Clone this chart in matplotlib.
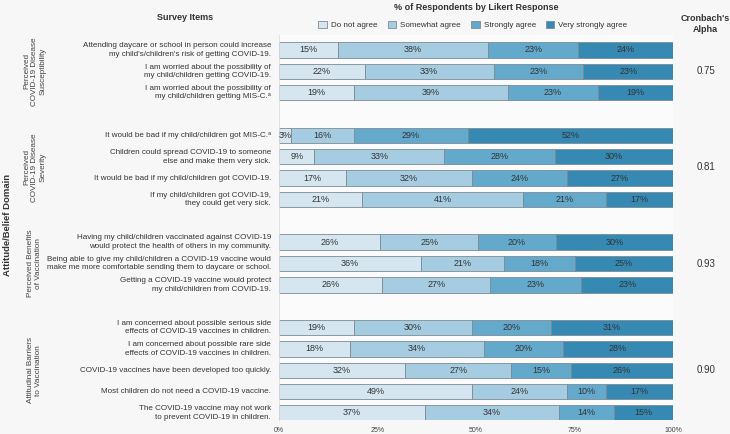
import numpy as np
import matplotlib.pyplot as plt
from matplotlib.patches import Patch

plt.rcParams['font.family'] = ['Liberation Sans', 'DejaVu Sans']

# data
responses = ["Do not agree", "Somewhat agree", "Strongly agree", "Very strongly agree"]
colors = ["#d5e6f0", "#a5cce0", "#63a9cc", "#3589b3"]

groups = ["Perceived\nCOVID-19 Disease\nSusceptibility",
          "Perceived\nCOVID-19 Disease\nSeverity",
          "Perceived Benefits\nof Vaccination",
          "Attitudinal Barriers\nto Vaccination"]
alphas = ["0.75", "0.81", "0.93", "0.90"]

items = [
    ["Attending daycare or school in person could increase\nmy child's/children's risk of getting COVID-19.",
     "I am worried about the possibility of\nmy child/children getting COVID-19.",
     "I am worried about the possibility of\nmy child/children getting MIS-C.\u1d43"],
    ["It would be bad if my child/children got MIS-C.\u1d43",
     "Children could spread COVID-19 to someone\nelse and make them very sick.",
     "It would be bad if my child/children got COVID-19.",
     "If my child/children got COVID-19,\nthey could get very sick."],
    ["Having my child/children vaccinated against COVID-19\nwould protect the health of others in my community.",
     "Being able to give my child/children a COVID-19 vaccine would\nmake me more comfortable sending them to daycare or school.",
     "Getting a COVID-19 vaccine would protect\nmy child/children from COVID-19."],
    ["I am concerned about possible serious side\neffects of COVID-19 vaccines in children.",
     "I am concerned about possible rare side\neffects of COVID-19 vaccines in children.",
     "COVID-19 vaccines have been developed too quickly.",
     "Most children do not need a COVID-19 vaccine.",
     "The COVID-19 vaccine may not work\nto prevent COVID-19 in children."],
]

pct = [
    [[15, 38, 23, 24], [22, 33, 23, 23], [19, 39, 23, 19]],
    [[3, 16, 29, 52], [9, 33, 28, 30], [17, 32, 24, 27], [21, 41, 21, 17]],
    [[26, 25, 20, 30], [36, 21, 18, 25], [26, 27, 23, 23]],
    [[19, 30, 20, 31], [18, 34, 20, 28], [32, 27, 15, 26], [49, 24, 10, 17], [37, 34, 14, 15]],
]

W, H = 730, 434
fig = plt.figure(figsize=(W / 100, H / 100), dpi=100, facecolor="#f7f7f7")
top_px, bot_px = 35, 420
ax = fig.add_axes([279 / W, 1 - bot_px / H, 394 / W, (bot_px - top_px) / H])
ax.set_facecolor("#fbfbfb")

slot = (413 - 50) / 17.0
ax.set_ylim((bot_px - 50) / slot, (top_px - 50) / slot)
ax.set_xlim(0, 100)

y = 0
for g in range(len(groups)):
    ys = []
    for i, row in enumerate(pct[g]):
        vals = np.array(row, dtype=float)
        widths = vals / vals.sum() * 100
        left = 0
        for k in range(4):
            ax.barh(y, widths[k], left=left, height=0.72, color=colors[k],
                    edgecolor="#7d8b94", linewidth=0.6)
            ax.text(left + widths[k] / 2, y, "%d%%" % row[k], ha="center", va="center",
                    fontsize=6.5, color="#333333")
            left += widths[k]
        ax.text(-0.02, y, items[g][i], transform=ax.get_yaxis_transform(),
                ha="right", va="center", fontsize=5.8, color="#333333", linespacing=1.3)
        ys.append(y)
        y += 1
    ymid = np.mean(ys)
    ax.text(-0.62, ymid, groups[g], transform=ax.get_yaxis_transform(), rotation=90,
            ha="center", va="center", fontsize=5.9, color="#444444", multialignment="center",
            linespacing=1.2)
    ax.text(1.085, ymid, alphas[g], transform=ax.get_yaxis_transform(),
            ha="center", va="center", fontsize=7, color="#333333")
    y += 1

ax.set_xticks([0, 25, 50, 75, 100])
ax.set_xticklabels(["0%", "25%", "50%", "75%", "100%"], fontsize=5, color="#444444")
ax.tick_params(axis="x", length=0, pad=5)
ax.set_yticks([])
for s in ["top", "right", "bottom"]:
    ax.spines[s].set_visible(False)
ax.spines["left"].set_color("#dddddd")
ax.spines["left"].set_linewidth(0.6)

fig.text(185 / W, 1 - 17 / H, "Survey Items", ha="center", va="center",
         fontsize=6.5, fontweight="bold", color="#333333")
fig.text(476 / W, 1 - 8 / H, "% of Respondents by Likert Response", ha="center", va="center",
         fontsize=6.5, fontweight="bold", color="#333333")
fig.text(705 / W, 1 - 24 / H, "Cronbach's\nAlpha", ha="center", va="center",
         fontsize=6.5, fontweight="bold", color="#333333", linespacing=1.35)
fig.text(8 / W, 1 - 225 / H, "Attitude/Belief Domain", ha="center", va="center", rotation=90,
         fontsize=6.8, fontweight="bold", color="#333333")

handles = [Patch(facecolor=c, edgecolor="#7d8b94", linewidth=0.6) for c in colors]
fig.legend(handles, responses, loc="center", bbox_to_anchor=(473 / W, 1 - 25 / H), ncol=4,
           frameon=False, fontsize=5.8, handlelength=1.1, handleheight=1.1,
           columnspacing=1.2, handletextpad=0.5, labelcolor="#333333")

fig.savefig("out.png", dpi=100, facecolor=fig.get_facecolor())
